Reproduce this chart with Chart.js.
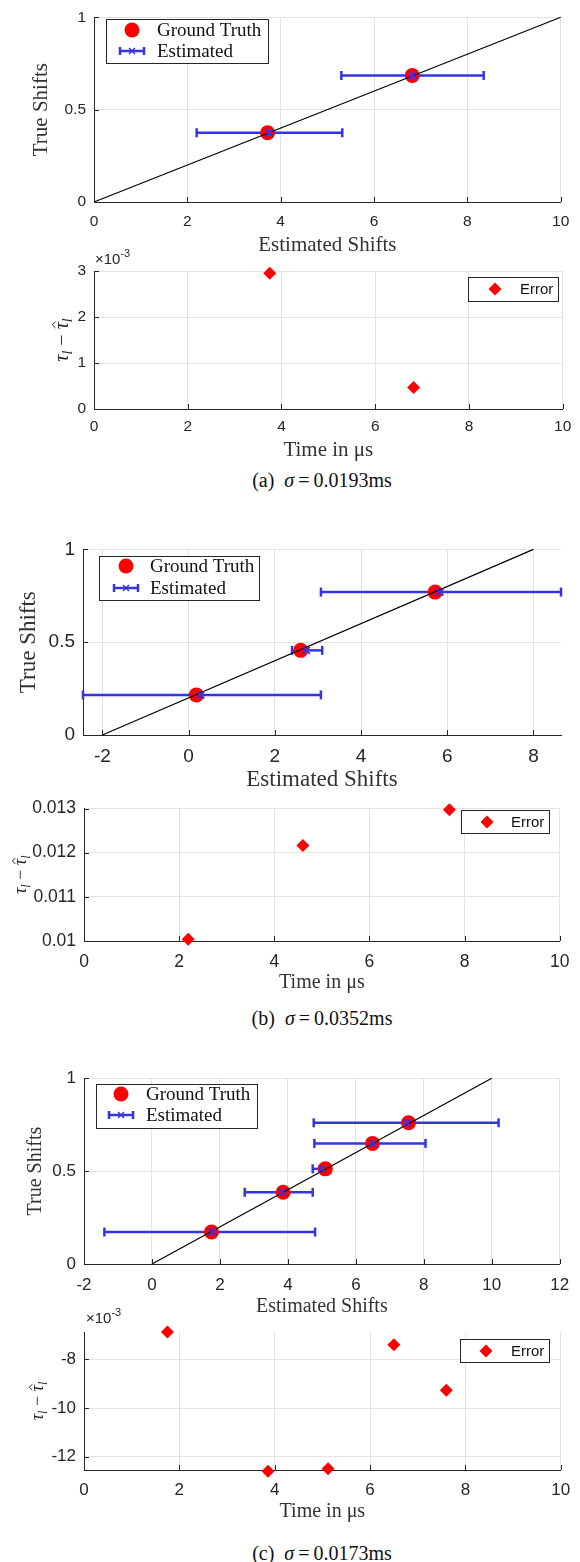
<!DOCTYPE html>
<html>
<head>
<meta charset="utf-8">
<script src="https://cdn.jsdelivr.net/npm/chart.js@4.4.1/dist/chart.umd.min.js"></script>
<style>
  body { margin: 0; background: #fff; width: 580px; height: 1562px; position: relative; overflow: hidden; }
  canvas { position: absolute; left: 0; }
  .cap { position: absolute; left: 322px; transform: translateX(-50%); font-family: "Liberation Serif", serif; font-size: 20px; line-height: 24px; color: #111; white-space: nowrap; }
</style>
</head>
<body>
<div class="cap" style="top:468px">(a)&nbsp; <i>σ</i>&thinsp;=&thinsp;0.0193ms</div>
<div class="cap" style="top:1006px">(b)&nbsp; <i>σ</i>&thinsp;=&thinsp;0.0352ms</div>
<div class="cap" style="top:1541px">(c)&nbsp; <i>σ</i>&thinsp;=&thinsp;0.0173ms</div>
<script>
// ---- data ----
// (a)
const aTruthX = [3.72, 6.82];
const aTruthY = [0.375, 0.685];
const aEstX = [3.76, 6.83];
const aBarLo = [2.2, 5.3];
const aBarHi = [5.32, 8.35];
const aRefX = [0, 10];
const aRefY = [0, 1];
const aErrT = [3.75, 6.82];
const aErr = [2.95e-3, 0.47e-3];
const aXTicks = [0, 2, 4, 6, 8, 10];
const aErrYTicks = [0, 1e-3, 2e-3, 3e-3];

// (b)
const bTruthX = [0.18, 2.6, 5.72];
const bTruthY = [0.216, 0.456, 0.77];
const bEstX = [0.28, 2.73, 5.83];
const bBarLo = [-2.45, 2.4, 3.07];
const bBarHi = [3.07, 3.1, 8.64];
const bRefX = [-2, 8];
const bRefY = [0, 1];
const bErrT = [2.19, 4.6, 7.68];
const bErr = [0.01004, 0.01216, 0.01297];
const bXTicks = [-2, 0, 2, 4, 6, 8];
const bErrYTicks = [0.01, 0.011, 0.012, 0.013];

// (c)
const cTruthX = [1.75, 3.86, 5.1, 6.49, 7.55];
const cTruthY = [0.172, 0.386, 0.512, 0.649, 0.76];
const cEstX = [1.78, 3.84, 5.0, 6.5, 7.5];
const cBarLo = [-1.4, 2.73, 4.73, 4.78, 4.76];
const cBarHi = [4.8, 4.73, 5.25, 8.05, 10.2];
const cRefX = [0, 10];
const cRefY = [0, 1];
const cErrT = [1.75, 3.86, 5.12, 6.5, 7.6];
const cErr = [-6.87e-3, -12.6e-3, -12.5e-3, -7.39e-3, -9.27e-3];
const cXTicks = [-2, 0, 2, 4, 6, 8, 10, 12];
const cErrYTicks = [-12e-3, -10e-3, -8e-3];

const shiftYTicks = [0, 0.5, 1];
const timeTicks = [0, 2, 4, 6, 8, 10];

const BLUE = '#3434e4', RED = '#ff0000', INK = '#262626', GRID = '#e3e3e3';
const SERIF = '"Liberation Serif", "Times New Roman", serif';
const SANS = '"Liberation Sans", Arial, sans-serif';

function line(ctx, x1, y1, x2, y2) {
  ctx.beginPath(); ctx.moveTo(x1, y1); ctx.lineTo(x2, y2); ctx.stroke();
}

function marker(ctx, kind, x, y) {
  ctx.save();
  if (kind === 'circle') {
    ctx.fillStyle = RED;
    ctx.beginPath(); ctx.arc(x, y, 7.5, 0, Math.PI * 2); ctx.fill();
  } else if (kind === 'diamond') {
    ctx.fillStyle = RED;
    ctx.beginPath(); ctx.moveTo(x, y - 6.5); ctx.lineTo(x + 6.5, y); ctx.lineTo(x, y + 6.5); ctx.lineTo(x - 6.5, y); ctx.closePath(); ctx.fill();
  } else {
    ctx.strokeStyle = BLUE; ctx.lineWidth = 2.5;
    line(ctx, x - 12, y, x + 12, y);
    line(ctx, x - 12, y - 4, x - 12, y + 4);
    line(ctx, x + 12, y - 4, x + 12, y + 4);
    ctx.lineWidth = 1.5;
    line(ctx, x - 3, y - 3, x + 3, y + 3);
    line(ctx, x - 3, y + 3, x + 3, y - 3);
  }
  ctx.restore();
}

function mathLabel(ctx, cx, cy, size) {
  ctx.save();
  ctx.translate(cx, cy);
  ctx.rotate(-Math.PI / 2);
  ctx.fillStyle = INK; ctx.strokeStyle = INK;
  ctx.textBaseline = 'alphabetic'; ctx.textAlign = 'left';
  const it = `italic ${size}px ${SERIF}`, rm = `${size}px ${SERIF}`;
  const sub = `italic ${Math.round(size * 0.68)}px ${SERIF}`;
  const parts = [['τ', it, 0, false], ['l', sub, 0.22, false], [' − ', rm, 0, false], ['τ', it, 0, true], ['l', sub, 0.22, false]];
  let total = 0;
  parts.forEach(p => { ctx.font = p[1]; p.push(ctx.measureText(p[0]).width); total += p[4]; });
  let x = -total / 2;
  const base = size * 0.28;
  parts.forEach(p => {
    ctx.font = p[1];
    ctx.fillText(p[0], x, base + p[2] * size);
    if (p[3]) {
      const hx = x + p[4] / 2 + 1;
      ctx.lineWidth = 1;
      ctx.beginPath();
      ctx.moveTo(hx - size * 0.16, base - size * 0.6);
      ctx.lineTo(hx, base - size * 0.76);
      ctx.lineTo(hx + size * 0.16, base - size * 0.6);
      ctx.stroke();
    }
    x += p[4];
  });
  ctx.restore();
}

// inward tick marks, legend box, exponent and math axis label
const decor = {
  id: 'decor',
  afterDraw(chart, args, o) {
    const ctx = chart.ctx, ca = chart.chartArea, off = o.top;
    const xs = chart.scales.x, ys = chart.scales.y;
    ctx.save();
    ctx.strokeStyle = INK; ctx.lineWidth = 1;
    xs.ticks.forEach(t => {
      const p = Math.round(xs.getPixelForValue(t.value)) + 0.5;
      line(ctx, p, ca.bottom, p, ca.bottom - 5);
    });
    ys.ticks.forEach(t => {
      const p = Math.round(ys.getPixelForValue(t.value)) + 0.5;
      line(ctx, ca.left, p, ca.left + 5, p);
    });
    if (o.legend) {
      const [x1, y1, x2, y2] = o.legend.box;
      ctx.fillStyle = '#fff';
      ctx.fillRect(x1, y1 - off, x2 - x1, y2 - y1);
      ctx.strokeStyle = INK;
      ctx.strokeRect(x1 + 0.5, y1 - off + 0.5, x2 - x1, y2 - y1);
      o.legend.rows.forEach(r => {
        marker(ctx, r.kind, r.mx, r.y - off);
        ctx.fillStyle = '#111';
        ctx.font = r.font;
        ctx.textBaseline = 'middle'; ctx.textAlign = 'left';
        ctx.fillText(r.label, r.tx, r.y - off + 1);
      });
    }
    if (o.expo) {
      ctx.fillStyle = INK; ctx.textBaseline = 'alphabetic'; ctx.textAlign = 'left';
      ctx.font = `15px ${SANS}`;
      ctx.fillText('×10', o.expo.x, o.expo.y - off + 6);
      const w = ctx.measureText('×10').width;
      ctx.font = `11px ${SANS}`;
      ctx.fillText('-3', o.expo.x + w, o.expo.y - off - 1);
    }
    if (o.math) mathLabel(ctx, o.math.x, ca.top + ca.height / 2, o.math.size);
    ctx.restore();
  }
};

function pts(xs, ys) { return xs.map((x, i) => ({ x, y: ys[i] })); }

function shiftSets(truthX, truthY, estX, lo, hi, refX, refY) {
  const sets = [
    { type: 'scatter', data: pts(estX, truthY), pointStyle: 'crossRot', pointRadius: 5,
      borderColor: BLUE, borderWidth: 2, backgroundColor: BLUE, order: 0, clip: false },
    { type: 'line', data: pts(refX, refY), borderColor: '#000', borderWidth: 1.2,
      pointRadius: 0, order: 1, clip: false },
    { type: 'scatter', data: pts(truthX, truthY), pointStyle: 'circle', pointRadius: 7.5,
      backgroundColor: RED, borderColor: RED, borderWidth: 0, order: 2, clip: false }
  ];
  lo.forEach((l, i) => sets.push({
    type: 'line', data: [{ x: l, y: truthY[i] }, { x: hi[i], y: truthY[i] }],
    borderColor: BLUE, borderWidth: 2.5, pointStyle: 'line', pointRotation: 90,
    pointRadius: 4.5, pointBorderColor: BLUE, pointBorderWidth: 2.5, order: 3, clip: false
  }));
  return sets;
}

function errSets(t, e) {
  return [{ type: 'scatter', data: pts(t, e), pointStyle: 'rectRot', pointRadius: 6.5,
    backgroundColor: RED, borderColor: RED, borderWidth: 0, clip: false }];
}

function makeChart(g) {
  const c = document.createElement('canvas');
  c.width = 580; c.height = g.h;
  c.style.top = g.top + 'px';
  document.body.appendChild(c);
  const tlh = g.title * 1.2, klh = g.tick * 1.2;
  return new Chart(c, {
    type: 'scatter',
    data: { datasets: g.sets },
    options: {
      responsive: false,
      animation: false,
      events: [],
      layout: { autoPadding: false, padding: { top: g.T - g.top, right: 580 - g.R, left: 0, bottom: 0 } },
      plugins: { legend: { display: false }, tooltip: { enabled: false }, decor: g.decor },
      scales: {
        x: {
          type: 'linear', min: g.xmin, max: g.xmax,
          afterBuildTicks: s => { s.ticks = g.xticks.map(v => ({ value: v })); },
          afterFit: s => { s.height = g.top + g.h - g.B; },
          grid: { color: GRID, drawTicks: false },
          border: { display: true, color: INK, width: 1 },
          ticks: { color: INK, font: { family: SANS, size: g.tick }, padding: g.xl - g.B - klh / 2, maxRotation: 0, autoSkip: false },
          title: { display: true, text: g.xtitle, color: '#333', font: { family: SERIF, size: g.title },
                   padding: { top: 0, bottom: g.top + g.h - g.xt - tlh / 2 } }
        },
        y: {
          type: 'linear', min: g.ymin, max: g.ymax,
          afterBuildTicks: s => { s.ticks = g.yticks.map(v => ({ value: v })); },
          afterFit: s => { s.width = g.L; },
          grid: { color: GRID, drawTicks: false },
          border: { display: true, color: INK, width: 1 },
          ticks: { color: INK, font: { family: SANS, size: g.tick }, padding: 8, autoSkip: false, callback: g.yfmt },
          title: { display: !!g.ytitle, text: g.ytitle || '', color: '#333', font: { family: SERIF, size: g.title },
                   padding: { top: g.yt - tlh / 2, bottom: 0 } }
        }
      }
    },
    plugins: [decor]
  });
}

const gtFont = `19px ${SERIF}`, errFont = `15px ${SANS}`;
function gtLegend(box, r1, r2, mx, tx) {
  return { box, rows: [
    { kind: 'circle', label: 'Ground Truth', y: r1, mx, tx, font: gtFont },
    { kind: 'bar', label: 'Estimated', y: r2, mx, tx, font: gtFont }
  ] };
}
function errLegend(box, y, mx, tx) {
  return { box, rows: [{ kind: 'diamond', label: 'Error', y, mx, tx, font: errFont }] };
}
const milli = v => String(Math.round(v * 1000));

// (a) top
makeChart({ top: 0, h: 262, L: 94, R: 570, T: 10, B: 202, xl: 222, xt: 245, yt: 41, tick: 15.5, title: 21,
  xmin: 0, xmax: 10, ymin: 0, ymax: 1, xticks: aXTicks, yticks: shiftYTicks,
  xtitle: 'Estimated Shifts', ytitle: 'True Shifts',
  sets: shiftSets(aTruthX, aTruthY, aEstX, aBarLo, aBarHi, aRefX, aRefY),
  decor: { top: 0, legend: gtLegend([106, 19, 268, 63], 30, 51, 132, 157) } });
// (a) bottom
makeChart({ top: 245, h: 225, L: 94, R: 570, T: 271, B: 409, xl: 427, xt: 450, yt: 62, tick: 15.5, title: 21,
  xmin: 0, xmax: 10, ymin: 0, ymax: 3e-3, xticks: timeTicks, yticks: aErrYTicks, yfmt: milli,
  xtitle: 'Time in μs', sets: errSets(aErrT, aErr),
  decor: { top: 245, legend: errLegend([468, 277, 558, 301], 289, 495, 520), expo: { x: 95, y: 258 }, math: { x: 62, size: 20 } } });
// (b) top
makeChart({ top: 530, h: 270, L: 83, R: 561, T: 544, B: 735, xl: 757, xt: 780, yt: 29, tick: 19, title: 23,
  xmin: -2.45, xmax: 8.64, ymin: 0, ymax: 1, xticks: bXTicks, yticks: shiftYTicks,
  xtitle: 'Estimated Shifts', ytitle: 'True Shifts',
  sets: shiftSets(bTruthX, bTruthY, bEstX, bBarLo, bBarHi, bRefX, bRefY),
  decor: { top: 530, legend: gtLegend([99, 556, 259, 600], 566, 588, 126, 150) } });
// (b) bottom
makeChart({ top: 790, h: 210, L: 84, R: 561, T: 804, B: 941, xl: 962, xt: 983, yt: 21, tick: 17.5, title: 20,
  xmin: 0, xmax: 10, ymin: 0.01, ymax: 0.013, xticks: timeTicks, yticks: bErrYTicks, yfmt: v => String(+v.toFixed(4)),
  xtitle: 'Time in μs', sets: errSets(bErrT, bErr),
  decor: { top: 790, legend: errLegend([461, 810, 549, 833], 822, 487, 511), math: { x: 21, size: 18 } } });
// (c) top
makeChart({ top: 1060, h: 265, L: 84, R: 561, T: 1074, B: 1264, xl: 1285, xt: 1307, yt: 36, tick: 17, title: 20,
  xmin: -2, xmax: 12, ymin: 0, ymax: 1, xticks: cXTicks, yticks: shiftYTicks,
  xtitle: 'Estimated Shifts', ytitle: 'True Shifts',
  sets: shiftSets(cTruthX, cTruthY, cEstX, cBarLo, cBarHi, cRefX, cRefY),
  decor: { top: 1060, legend: gtLegend([96, 1084, 257, 1128], 1094, 1115, 121, 146) } });
// (c) bottom
makeChart({ top: 1300, h: 230, L: 84, R: 561, T: 1332, B: 1470, xl: 1490, xt: 1512, yt: 38, tick: 17, title: 20,
  xmin: 0, xmax: 10, ymin: -12.55e-3, ymax: -6.87e-3, xticks: timeTicks, yticks: cErrYTicks, yfmt: milli,
  xtitle: 'Time in μs', sets: errSets(cErrT, cErr),
  decor: { top: 1300, legend: errLegend([460, 1339, 549, 1362], 1351, 486, 511), expo: { x: 86, y: 1317 }, math: { x: 38, size: 18 } } });
</script>
</body>
</html>
